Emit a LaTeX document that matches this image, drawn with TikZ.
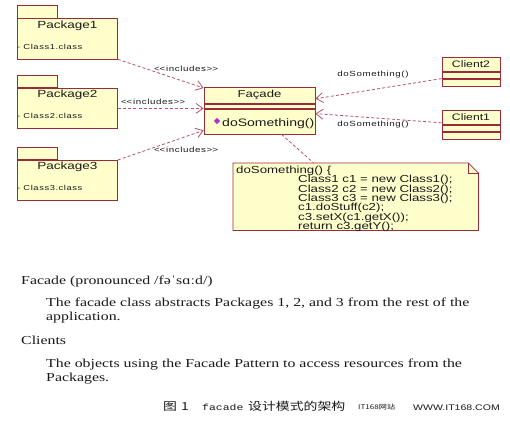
\documentclass[tikz,border=0pt]{standalone}
\usepackage{fontspec}
\setmainfont{Liberation Serif}[FakeStretch=1.3]
\newfontfamily\umlfont{Liberation Sans}[FakeStretch=1.3]
\newfontfamily\umlsmall{Liberation Sans}[FakeStretch=1.3,LetterSpace=8]
\newfontfamily\cjkfont{Noto Sans CJK SC}[FakeStretch=1.25]
\newfontfamily\capmono{Liberation Mono}[FakeStretch=1.3]
\usetikzlibrary{arrows.meta,positioning,calc}
\definecolor{umlfill}{HTML}{FFFFCC}
\definecolor{umlline}{HTML}{9C2B3A}
\definecolor{depline}{HTML}{B8506A}
\definecolor{opicon}{HTML}{B030C0}
\definecolor{ink}{HTML}{1A1A1A}
\newcommand\tightlines{\lineskiplimit=-20pt\relax}
\tikzset{
  pkgbody/.style={draw=umlline,fill=umlfill,line width=0.8pt,minimum width=100pt,minimum height=40pt,inner sep=0pt,anchor=north west},
  pkgtab/.style={draw=umlline,fill=umlfill,line width=0.8pt,minimum width=40pt,minimum height=12.5pt,inner sep=0pt,anchor=south west},
  cpt/.style={draw=umlline,fill=umlfill,line width=0.8pt,inner sep=0pt,minimum width=#1,anchor=north},
  pname/.style={font=\umlfont\fontsize{10.4}{12}\selectfont,inner sep=0pt,text=ink},
  cname/.style={font=\umlfont\fontsize{9.4}{11}\selectfont,text=ink},
  lbl/.style={font=\umlsmall\fontsize{7.5}{9}\selectfont,inner sep=0pt,text=ink},
  depend/.style={draw=depline,line width=0.8pt,dash pattern=on 3pt off 2.2pt},
  codetext/.style={font=\umlfont\fontsize{10.2}{9.33}\selectfont\tightlines,align=left,inner sep=0pt,text=ink},
  para/.style={font=\fontsize{12.2}{13.5}\selectfont\tightlines,align=left,inner sep=0pt,anchor=base west,text=ink},
  capcjk/.style={font=\cjkfont\fontsize{11.1}{13}\selectfont,inner sep=0pt,text=ink},
  >={Straight Barb[length=7pt,width=10pt]},
}
\begin{document}
\begin{tikzpicture}[x=1pt,y=-1pt]
  \useasboundingbox[fill=white] (0,0) rectangle (510,420);

  % packages
  \foreach \i/\top in {1/18.5,2/88,3/160}{
    \node[pkgbody] (pkg\i) at (17,\top) {};
    \node[pkgtab] (tab\i) at (pkg\i.north west) {};
    \node[pname] (pname\i) at ([yshift=-7pt]pkg\i.north) {Package\i};
    \node[lbl,font=\umlsmall\fontsize{7.2}{8}\selectfont,anchor=west] (pcls\i) at ([shift={(0pt,-28pt)}]pkg\i.north west) {- Class\i.class};
  }

  % facade class
  \node[cpt=111pt,minimum height=16pt,pname,font=\umlfont\fontsize{10.1}{12}\selectfont] (fname) at (259.5,87) {Façade};
  \node[cpt=111pt,minimum height=4pt,below=0pt of fname] (fattr) {};
  \node[cpt=111pt,minimum height=25pt,below=0pt of fattr] (fops) {};
  \node[fill=opicon,minimum size=4.5pt,inner sep=0pt,rotate=45] (icon) at (217,121) {};
  \node[pname,font=\umlfont\fontsize{10.8}{12}\selectfont,anchor=base west] (fmeth) at (222,126) {doSomething()};

  % clients
  \node[cpt=58pt,minimum height=14pt,cname] (c2name) at (471,57) {Client2};
  \node[cpt=58pt,minimum height=6pt,below=0pt of c2name] (c2attr) {};
  \node[cpt=58pt,minimum height=7pt,below=0pt of c2attr] (c2ops) {};
  \node[cpt=58pt,minimum height=14pt,cname] (c1name) at (471,110) {Client1};
  \node[cpt=58pt,minimum height=6pt,below=0pt of c1name] (c1attr) {};
  \node[cpt=58pt,minimum height=7pt,below=0pt of c1attr] (c1ops) {};

  % dependencies
  \draw[depend,->] (pkg1.south east) -- ([yshift=-1pt]fname.north west);
  \draw[depend,->] (pkg2.east) -- (pkg2.east -| fops.west);
  \draw[depend,->] (pkg3.north east) -- ([yshift=4pt]fops.south west);
  \draw[depend,->] (c2attr.south west) -- ([yshift=5pt]fname.south east);
  \draw[depend,->] ([yshift=2pt]c1name.south west) -- ([yshift=-5pt]fops.north east);
  \node[lbl] (inc1) at (186,69) {<\kern0pt<includes>\kern0pt>};
  \node[lbl] (inc2) at (153,102) {<\kern0pt<includes>\kern0pt>};
  \node[lbl] (inc3) at (186,150) {<\kern0pt<includes>\kern0pt>};
  \node[lbl] (call2) at (373,75) {doSomething()};
  \node[lbl] (call1) at (373,125) {doSomething()};

  % note
  \node[minimum width=245pt,minimum height=67pt,inner sep=0pt,anchor=north west] (note) at (233,163) {};
  \draw[draw=umlline,fill=umlfill,line width=0.8pt] (note.north west) -- ([xshift=-10pt]note.north east) -- ([yshift=-10pt]note.north east) -- (note.south east) -- (note.south west) -- cycle;
  \draw[draw=umlline,line width=0.8pt] ([xshift=-10pt]note.north east) |- ([yshift=-10pt]note.north east);
  \draw[depend] ([xshift=22pt]fops.south) -- ([xshift=-42pt]note.north);
  \node[codetext,anchor=north west] (code) at (236,166) {doSomething() \{\\
    \hspace*{62pt}Class1 c1 = new Class1();\\
    \hspace*{62pt}Class2 c2 = new Class2();\\
    \hspace*{62pt}Class3 c3 = new Class3();\\
    \hspace*{62pt}c1.doStuff(c2);\\
    \hspace*{62pt}c3.setX(c1.getX());\\
    \hspace*{62pt}return c3.getY();};

  % description
  \node[para] (t1) at (21,284) {Facade (pronounced /fəˈsɑːd/)};
  \node[para] (t2) at (46,320) {The facade class abstracts Packages 1, 2, and 3 from the rest of the\\application.};
  \node[para] (t3) at (21,344) {Clients};
  \node[para] (t4) at (46,381) {The objects using the Facade Pattern to access resources from the\\Packages.};

  % caption
  \node[capcjk,anchor=base west] (cap1) at (163,410) {图\hspace{4pt}1};
  \node[capcjk,font=\capmono\fontsize{8.8}{11}\selectfont,anchor=base west] (cap2) at (202,410) {facade};
  \node[capcjk,anchor=base west] (cap3) at (248,410) {设计模式的架构};
  \node[capcjk,font=\cjkfont\fontsize{6.5}{8}\selectfont,anchor=base west] (site) at (358,409) {IT168网站};
  \node[capcjk,font=\umlfont\fontsize{8.1}{10}\selectfont,anchor=base west] (url) at (413,410) {WWW.IT168.COM};
\end{tikzpicture}
\end{document}
